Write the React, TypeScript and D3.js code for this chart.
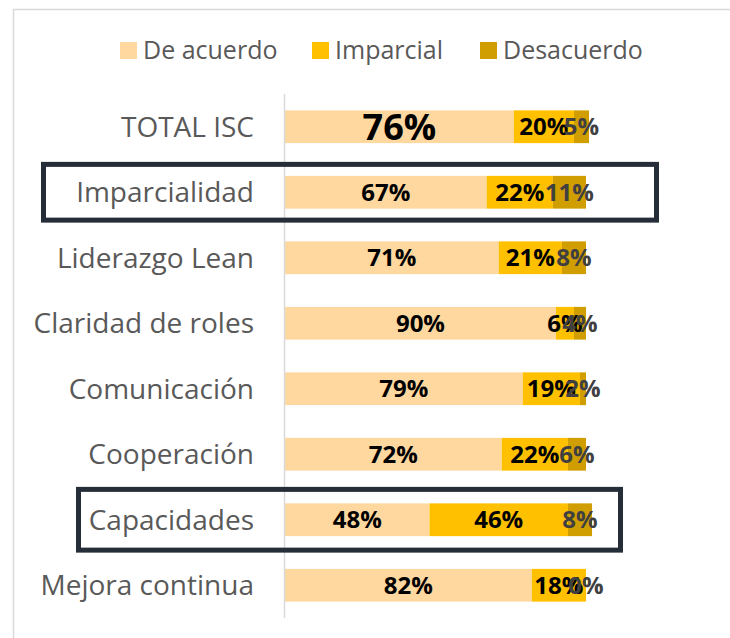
import { useEffect, useRef } from 'react';
import * as d3 from 'd3';

const categories = [
  'TOTAL ISC',
  'Imparcialidad',
  'Liderazgo Lean',
  'Claridad de roles',
  'Comunicación',
  'Cooperación',
  'Capacidades',
  'Mejora continua',
];
const deAcuerdo = [76, 67, 71, 90, 79, 72, 48, 82];
const imparcial = [20, 22, 21, 6, 19, 22, 46, 18];
const desacuerdo = [5, 11, 8, 4, 2, 6, 8, 0];
const seriesNames = ['De acuerdo', 'Imparcial', 'Desacuerdo'];
const highlighted = ['Imparcialidad', 'Capacidades'];

const colors = ['#FFD8A0', '#FFC000', '#D09E00'];
const labelColors = ['#000000', '#000000', '#404040'];
const FONT = '"Open Sans", sans-serif';

export default function App() {
  const svgRef = useRef<SVGSVGElement>(null);
  const width = 730;
  const height = 638;

  useEffect(() => {
    if (!svgRef.current) return;
    const svg = d3.select(svgRef.current);
    svg.selectAll('*').remove();

    const rows = categories.map((c, i) => ({
      cat: c,
      s0: deAcuerdo[i],
      s1: imparcial[i],
      s2: desacuerdo[i],
    }));
    const stack = d3.stack<any>().keys(['s0', 's1', 's2']);
    const layers = stack(rows);

    const x = d3.scaleLinear().domain([0, 100]).range([285, 586]);
    const y = d3
      .scaleBand()
      .domain(categories)
      .range([94, 618])
      .paddingInner(0.5)
      .paddingOuter(0.25);

    // chart frame
    svg.append('rect')
      .attr('x', 13.5).attr('y', 9.5)
      .attr('width', 800).attr('height', 700)
      .attr('fill', 'none')
      .attr('stroke', '#d9d9d9')
      .attr('stroke-width', 1.5);

    // legend
    const legendX = [120, 312, 480];
    const legend = svg.append('g');
    seriesNames.forEach((name, i) => {
      legend.append('rect')
        .attr('x', legendX[i]).attr('y', 42)
        .attr('width', 17).attr('height', 17)
        .attr('fill', colors[i]);
      legend.append('text')
        .attr('x', legendX[i] + 23).attr('y', 50.5)
        .attr('dy', '0.35em')
        .attr('font-family', FONT)
        .attr('font-size', 25)
        .attr('fill', '#595959')
        .text(name);
    });

    // bars
    layers.forEach((layer, li) => {
      svg.append('g')
        .selectAll('rect')
        .data(layer)
        .enter()
        .append('rect')
        .attr('x', (d) => x(d[0]))
        .attr('y', (d) => y(d.data.cat)!)
        .attr('width', (d) => x(d[1]) - x(d[0]))
        .attr('height', y.bandwidth())
        .attr('fill', colors[li]);
    });

    // axis line
    svg.append('line')
      .attr('x1', 284.5).attr('x2', 284.5)
      .attr('y1', 94).attr('y2', 618)
      .attr('stroke', '#d9d9d9')
      .attr('stroke-width', 1.5);

    // category labels
    svg.append('g')
      .selectAll('text')
      .data(categories)
      .enter()
      .append('text')
      .attr('x', 254)
      .attr('y', (d) => y(d)! + y.bandwidth() / 2)
      .attr('dy', '0.35em')
      .attr('text-anchor', 'end')
      .attr('font-family', FONT)
      .attr('font-size', 28)
      .attr('fill', '#595959')
      .text((d) => d);

    // value labels
    layers.forEach((layer, li) => {
      svg.append('g')
        .selectAll('text')
        .data(layer)
        .enter()
        .append('text')
        .attr('x', (d) => (x(d[0]) + x(d[1])) / 2)
        .attr('y', (d) => y(d.data.cat)! + y.bandwidth() / 2)
        .attr('dy', '0.36em')
        .attr('text-anchor', 'middle')
        .attr('font-family', FONT)
        .attr('font-weight', 700)
        .attr('font-size', (d) => (li === 0 && d.data.cat === 'TOTAL ISC' ? 36 : 24))
        .attr('fill', labelColors[li])
        .text((d) => `${d[1] - d[0]}%`);
    });

    // highlight boxes
    const boxX: Record<string, [number, number]> = {
      Imparcialidad: [43.5, 656.5],
      Capacidades: [78.5, 620.5],
    };
    const boxPad: Record<string, number> = { Imparcialidad: 11.5, Capacidades: 14 };
    highlighted.forEach((cat) => {
      const [x0, x1] = boxX[cat];
      const yc = y(cat)! + y.bandwidth() / 2;
      const half = y.bandwidth() / 2 + boxPad[cat];
      svg.append('rect')
        .attr('x', x0).attr('y', yc - half)
        .attr('width', x1 - x0).attr('height', half * 2)
        .attr('fill', 'none')
        .attr('stroke', '#252d38')
        .attr('stroke-width', 5);
    });
  }, []);

  return (
    <svg
      ref={svgRef}
      width={width}
      height={height}
      style={{ position: 'absolute', left: 0, top: 0, display: 'block', background: '#fff' }}
    />
  );
}
